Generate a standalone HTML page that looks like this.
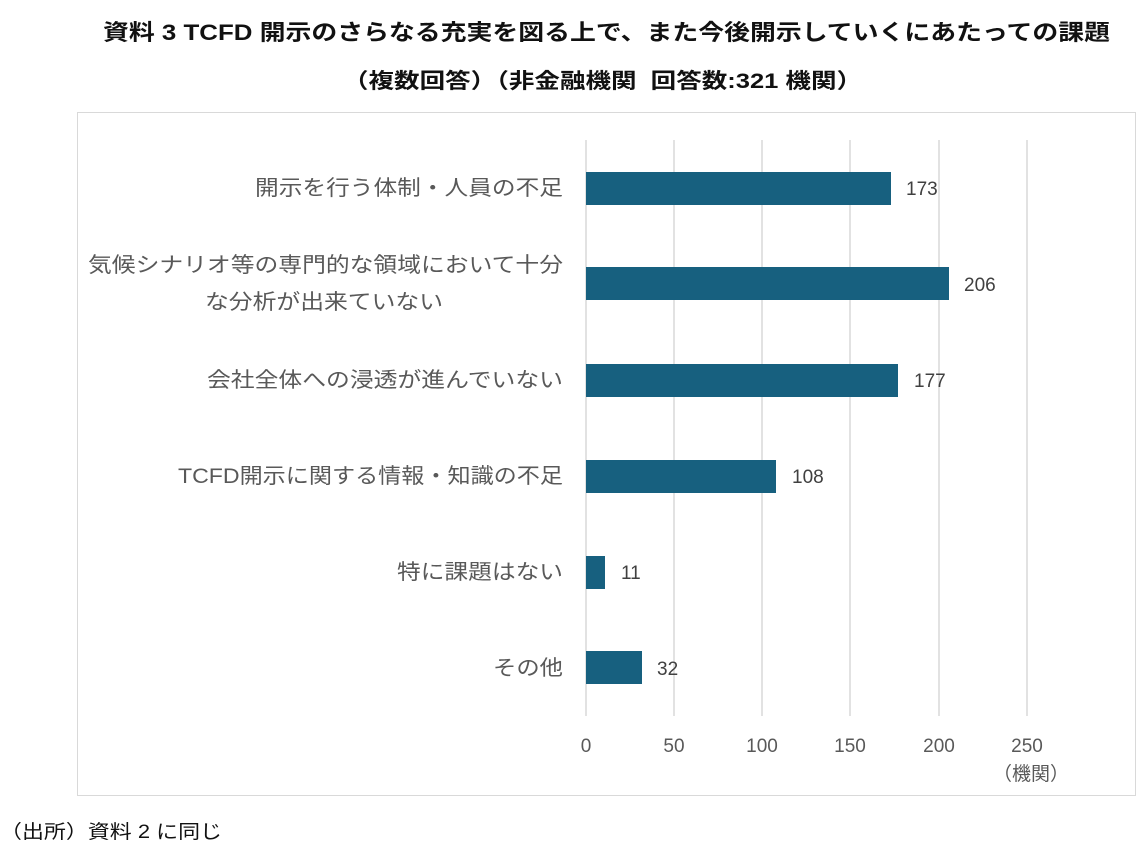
<!DOCTYPE html>
<html><head><meta charset="utf-8"><style>
body{margin:0;width:1147px;height:846px;background:#fff;position:relative;overflow:hidden;font-family:"Liberation Sans","Noto Sans CJK JP",sans-serif}
</style></head><body>
<div style="position:absolute;left:77px;top:112px;width:1059px;height:684px;border:1.5px solid #d9d9d9;box-sizing:border-box"></div>
<svg width="1147" height="846" style="position:absolute;left:0;top:0" font-family="Liberation Sans,Noto Sans CJK JP,sans-serif">
<text x="103" y="40" font-size="22" font-weight="bold" fill="#111" textLength="1007" lengthAdjust="spacingAndGlyphs">資料 3 TCFD 開示のさらなる充実を図る上で、また今後開示していくにあたっての課題</text>
<text x="343" y="88" font-size="21" font-weight="bold" fill="#111" textLength="519" lengthAdjust="spacingAndGlyphs">（複数回答）（非金融機関&#160; 回答数:321 機関）</text>
<g stroke="#d9d9d9" stroke-width="1.5">
<line x1="586" y1="140" x2="586" y2="716"/><line x1="674" y1="140" x2="674" y2="716"/><line x1="762" y1="140" x2="762" y2="716"/><line x1="850" y1="140" x2="850" y2="716"/><line x1="939" y1="140" x2="939" y2="716"/><line x1="1027" y1="140" x2="1027" y2="716"/>
</g>
<g fill="#17607f">
<rect x="586" y="172" width="305" height="33"/>
<rect x="586" y="267" width="363" height="33"/>
<rect x="586" y="364" width="312" height="33"/>
<rect x="586" y="460" width="190" height="33"/>
<rect x="586" y="556" width="19" height="33"/>
<rect x="586" y="651" width="56" height="33"/>
</g>
<g font-size="19" fill="#404040">
<text x="906" y="195">173</text><text x="964" y="291">206</text><text x="914" y="387">177</text><text x="792" y="483">108</text><text x="621" y="579">11</text><text x="657" y="675">32</text>
</g>
<g font-size="19" fill="#595959" text-anchor="middle">
<text x="586" y="752">0</text><text x="674" y="752">50</text><text x="762" y="752">100</text><text x="850" y="752">150</text><text x="939" y="752">200</text><text x="1027" y="752">250</text>
</g>
<g font-size="21" fill="#595959">
<text x="255" y="195" textLength="308" lengthAdjust="spacingAndGlyphs">開示を行う体制・人員の不足</text>
<text x="88" y="272" textLength="475" lengthAdjust="spacingAndGlyphs">気候シナリオ等の専門的な領域において十分</text>
<text x="205" y="309" textLength="238" lengthAdjust="spacingAndGlyphs">な分析が出来ていない</text>
<text x="207" y="387" textLength="356" lengthAdjust="spacingAndGlyphs">会社全体への浸透が進んでいない</text>
<text x="178" y="483" textLength="385" lengthAdjust="spacingAndGlyphs">TCFD開示に関する情報・知識の不足</text>
<text x="397" y="579" textLength="166" lengthAdjust="spacingAndGlyphs">特に課題はない</text>
<text x="493" y="675" textLength="70" lengthAdjust="spacingAndGlyphs">その他</text>
</g>
<text x="993" y="780" font-size="19" fill="#595959">（機関）</text>
<text x="0" y="838" font-size="19" fill="#111" textLength="222" lengthAdjust="spacingAndGlyphs">（出所）資料 2 に同じ</text>
</svg>
</body></html>
